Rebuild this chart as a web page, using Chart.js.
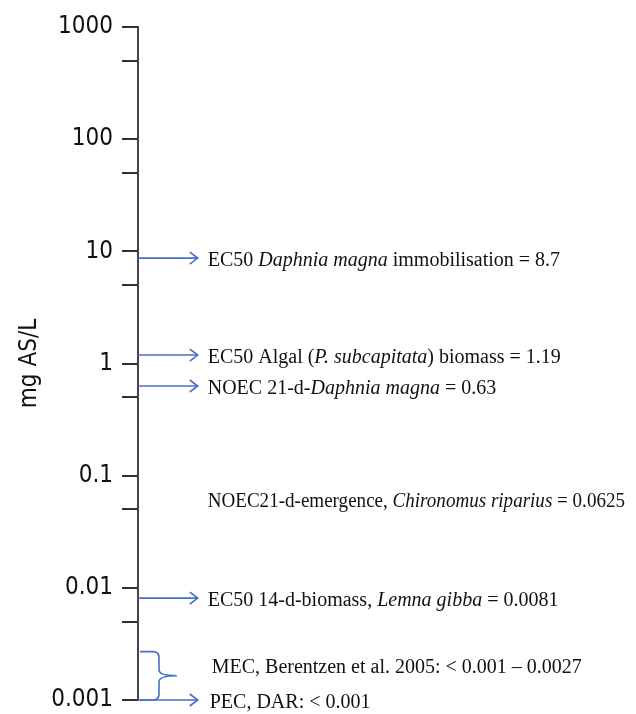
<!DOCTYPE html>
<html>
<head>
<meta charset="utf-8">
<script src="https://cdn.jsdelivr.net/npm/chart.js@4.4.1/dist/chart.umd.min.js"></script>
<style>
html,body{margin:0;padding:0;background:#fff}
.wrap{width:636px;height:714px;position:relative}
</style>
</head>
<body>
<div class="wrap"><canvas id="chart"></canvas></div>
<script>
// axis ticks (mg AS/L, log scale)
const majorTicks = [0.001, 0.01, 0.1, 1, 10, 100, 1000];
const tickLabels = ['0.001', '0.01', '0.1', '1', '10', '100', '1000'];
const minorTicks = [0.005, 0.05, 0.5, 5, 50, 500];

// endpoints, *...* = italic
const endpointNames = [
  'EC50 *Daphnia magna* immobilisation = 8.7',
  'EC50 Algal (*P. subcapitata*) biomass = 1.19',
  'NOEC 21-d-*Daphnia magna* = 0.63',
  'NOEC21-d-emergence, *Chironomus riparius* = 0.0625',
  'EC50 14-d-biomass, *Lemna gibba* = 0.0081'
];
const endpointValues = [8.7, 1.19, 0.63, 0.0625, 0.0081];
const endpointArrow = [true, true, true, false, true];

// exposure
const mecLabel = 'MEC, Berentzen et al. 2005: < 0.001 \u2013 0.0027';
const mecRange = [0.001, 0.0027];
const pecLabel = 'PEC, DAR: < 0.001';
const pecValue = 0.001;

const BLUE = '#4472C4';
const ARROW_END = 12;   // x units (0-100)
const TEXT_X = 14;
const BRACE_TIP = 7.8;
const SERIF = "20px 'Liberation Serif', 'Times New Roman', serif";
const SERIF_I = "italic 20px 'Liberation Serif', 'Times New Roman', serif";
const SANS = "'Liberation Sans Narrow', 'DejaVu Sans Condensed', 'Liberation Sans', sans-serif";

const arrowSets = [];
endpointValues.forEach((v, i) => {
  if (endpointArrow[i]) arrowSets.push({ data: [{x: 0, y: v}, {x: ARROW_END, y: v}] });
});
arrowSets.push({ data: [{x: 0, y: pecValue}, {x: ARROW_END, y: pecValue}] });

function drawRich(ctx, str, x, y, maxW) {
  const parts = str.split('*');
  let total = 0;
  parts.forEach((p, k) => { ctx.font = k % 2 ? SERIF_I : SERIF; total += ctx.measureText(p).width; });
  const sx = Math.min(1, maxW / total);
  ctx.save();
  ctx.translate(x, y);
  ctx.scale(sx, 1);
  let cx = 0;
  parts.forEach((p, k) => {
    ctx.font = k % 2 ? SERIF_I : SERIF;
    ctx.fillText(p, cx, 0);
    cx += ctx.measureText(p).width;
  });
  ctx.restore();
}

const annotations = {
  id: 'annotations',
  afterDatasetsDraw(chart) {
    const {ctx, scales: {x, y}} = chart;
    ctx.save();
    // arrow heads
    ctx.strokeStyle = BLUE;
    ctx.lineWidth = 1.6;
    chart.data.datasets.forEach((ds, i) => {
      const pt = chart.getDatasetMeta(i).data[1];
      ctx.beginPath();
      ctx.moveTo(pt.x - 8, pt.y - 6);
      ctx.lineTo(pt.x, pt.y);
      ctx.lineTo(pt.x - 8, pt.y + 6);
      ctx.stroke();
    });
    // brace for MEC range
    const x0 = x.getPixelForValue(0) + 2;
    const xt = x.getPixelForValue(BRACE_TIP);
    const xm = x0 + 19;
    const yt = y.getPixelForValue(mecRange[1]);
    const yb = y.getPixelForValue(mecRange[0]);
    const ym = (yt + yb) / 2;
    const r = 6;
    ctx.beginPath();
    ctx.moveTo(x0, yt);
    ctx.lineTo(xm - r, yt);
    ctx.quadraticCurveTo(xm, yt, xm, yt + r);
    ctx.lineTo(xm, ym - r);
    ctx.quadraticCurveTo(xm, ym, xt, ym);
    ctx.quadraticCurveTo(xm, ym, xm, ym + r);
    ctx.lineTo(xm, yb - r);
    ctx.quadraticCurveTo(xm, yb, xm - r, yb);
    ctx.lineTo(x0, yb);
    ctx.stroke();
    // texts
    ctx.fillStyle = '#111';
    ctx.textBaseline = 'middle';
    ctx.textAlign = 'left';
    const tx = x.getPixelForValue(TEXT_X);
    const maxW = chart.width - tx - 11;
    endpointNames.forEach((s, i) => drawRich(ctx, s, tx, y.getPixelForValue(endpointValues[i]) + 3, maxW));
    drawRich(ctx, mecLabel, tx + 4, ym - 8, maxW);
    drawRich(ctx, pecLabel, tx + 2, y.getPixelForValue(pecValue) + 3, maxW);
    ctx.restore();
  }
};

new Chart(document.getElementById('chart'), {
  type: 'scatter',
  data: {
    datasets: arrowSets.map(s => ({
      data: s.data,
      showLine: true,
      borderColor: BLUE,
      borderWidth: 1.6,
      pointRadius: 0,
      clip: false
    }))
  },
  options: {
    responsive: true,
    maintainAspectRatio: false,
    animation: false,
    layout: { padding: { top: 27, bottom: 14, left: 0, right: 0 } },
    plugins: { legend: { display: false }, tooltip: { enabled: false } },
    scales: {
      x: { type: 'linear', min: 0, max: 100, display: false },
      y: {
        type: 'logarithmic',
        min: 0.001,
        max: 1000,
        afterBuildTicks: (scale) => {
          scale.ticks = majorTicks.concat(minorTicks).sort((a, b) => a - b)
            .map(v => ({ value: v, major: majorTicks.includes(v) }));
        },
        afterFit: (scale) => { scale.width = 138; },
        ticks: {
          color: '#111',
          padding: 9,
          autoSkip: false,
          font: { family: SANS, size: 24, lineHeight: 0.4 },
          callback: (value) => {
            const i = majorTicks.indexOf(value);
            return i >= 0 ? tickLabels[i] : '';
          }
        },
        grid: { drawOnChartArea: false, drawTicks: true, tickLength: 16, color: '#333', lineWidth: 2 },
        border: { display: true, color: '#444', width: 2 },
        title: {
          display: true,
          text: 'mg AS/L',
          color: '#111',
          padding: { top: 15 },
          font: { family: SANS, size: 24 }
        }
      }
    }
  },
  plugins: [annotations]
});
</script>
</body>
</html>
